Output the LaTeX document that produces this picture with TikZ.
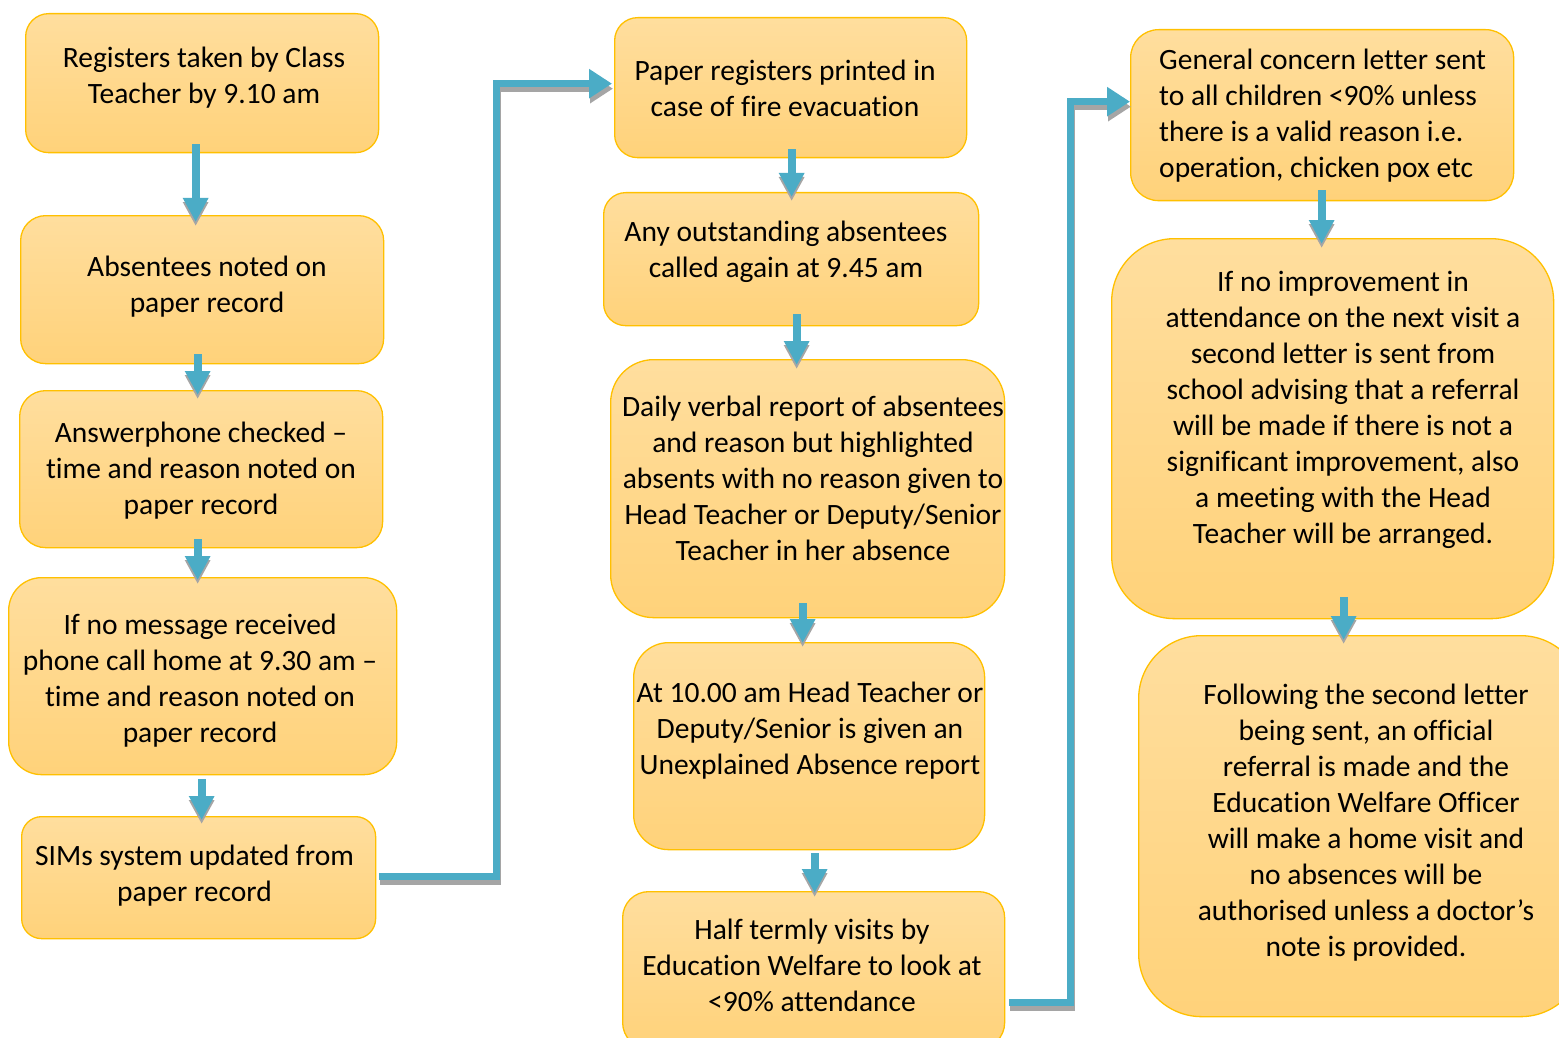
\documentclass[tikz,border=0pt]{standalone}
\usepackage{fontspec}
\setmainfont{Carlito}[Ligatures=NoCommon]
\usetikzlibrary{arrows.meta,calc}
\definecolor{boxedge}{RGB}{255,192,0}
\definecolor{boxtop}{RGB}{255,222,158}
\definecolor{boxbot}{RGB}{255,210,122}
\definecolor{arrblue}{RGB}{75,172,198}
\definecolor{shadowgray}{RGB}{165,165,165}
\newcommand\flowdown[2]{%
  \draw[downshadow] #1 -- #2;
  \draw[downblue] #1 -- #2;}
\begin{document}
\begin{tikzpicture}[x=1pt,y=-1pt,
  box/.style={rectangle,draw=boxedge,line width=1.3pt,top color=boxtop,bottom color=boxbot,inner sep=0pt,anchor=north west},
  txt/.style={font=\fontsize{29.5pt}{36pt}\selectfont,align=center,inner sep=0pt},
  downblue/.style={draw=arrblue,line width=8pt,-{Triangle[width=24pt,length=24pt]}},
  downshadow/.style={draw=shadowgray,line width=8pt,-{Triangle[width=24pt,length=24pt]},transform canvas={yshift=-4pt}},
  elbowblue/.style={draw=arrblue,line width=7.5pt,-{Triangle[width=28pt,length=23pt]}},
  elbowshadow/.style={draw=shadowgray,line width=7.5pt,-{Triangle[width=28pt,length=23pt]},transform canvas={xshift=1pt,yshift=-5pt}}]
\clip (0,0) rectangle (1559,1038);
\fill[white] (0,0) rectangle (1559,1038);
% column 1
\node[box,rounded corners=23pt,minimum width=353pt,minimum height=139pt] (b1) at (25,13) {};
\node[box,rounded corners=25pt,minimum width=363pt,minimum height=148pt] (b2) at (20,215) {};
\node[box,rounded corners=26pt,minimum width=363pt,minimum height=157pt] (b3) at (19,390) {};
\node[box,rounded corners=33pt,minimum width=388pt,minimum height=197pt] (b4) at (8,577) {};
\node[box,rounded corners=20pt,minimum width=354pt,minimum height=122pt] (b5) at (21,816) {};
% column 2
\node[box,rounded corners=23pt,minimum width=352pt,minimum height=140pt] (c1) at (614,17) {};
\node[box,rounded corners=22pt,minimum width=375pt,minimum height=133pt] (c2) at (603,192) {};
\node[box,rounded corners=43pt,minimum width=394pt,minimum height=258pt] (c3) at (610,359) {};
\node[box,rounded corners=35pt,minimum width=351pt,minimum height=207pt] (c4) at (633,642) {};
\node[box,rounded corners=26pt,minimum width=382pt,minimum height=157pt] (c5) at (622,891) {};
% column 3
\node[box,rounded corners=28pt,minimum width=383pt,minimum height=171pt] (d1) at (1130,29) {};
\node[box,rounded corners=63pt,minimum width=442pt,minimum height=380pt] (d2) at (1111,238) {};
\node[box,rounded corners=63pt,minimum width=445pt,minimum height=381pt] (d3) at (1138,635) {};
% texts
\node[txt] (b1t) at (204,77.5) {Registers taken by Class\\Teacher by 9.10 am};
\node[txt] (b2t) at (207,287) {Absentees noted on\\paper record};
\node[txt] (b3t) at (201,471) {Answerphone checked –\\time and reason noted on\\paper record};
\node[txt] (b4t) at (200,680.5) {If no message received\\phone call home at 9.30 am –\\time and reason noted on\\paper record};
\node[txt] (b5t) at (194.5,875.5) {SIMs system updated from\\paper record};
\node[txt] (c1t) at (785,88) {Paper registers printed in\\case of fire evacuation};
\node[txt] (c2t) at (786,251.5) {Any outstanding absentees\\called again at 9.45 am};
\node[txt] (c3t) at (813,478.5) {Daily verbal report of absentees\\and reason but highlighted\\absents with no reason given to\\Head Teacher or Deputy/Senior\\Teacher in her absence};
\node[txt] (c4t) at (810,731) {At 10.00 am Head Teacher or\\Deputy/Senior is given an\\Unexplained Absence report};
\node[txt] (c5t) at (812,965.5) {Half termly visits by\\Education Welfare to look at\\<90\% attendance};
\node[txt,align=left,anchor=west] (d1t) at (1159,115.5) {General concern letter sent\\to all children <90\% unless\\there is a valid reason i.e.\\operation, chicken pox etc};
\node[txt] (d2t) at (1343,409.5) {If no improvement in\\attendance on the next visit a\\second letter is sent from\\school advising that a referral\\will be made if there is not a\\significant improvement, also\\a meeting with the Head\\Teacher will be arranged.};
\node[txt] (d3t) at (1366,822.5) {Following the second letter\\being sent, an official\\referral is made and the\\Education Welfare Officer\\will make a home visit and\\no absences will be\\authorised unless a doctor’s\\note is provided.};
% down arrows
\flowdown{($(b1.south)+(-6.5,-9)$)}{($(b2.north)+(-6.5,7)$)}
\flowdown{($(b2.south)+(-4.5,-10)$)}{($(b3.north)+(-3.5,5)$)}
\flowdown{($(b3.south)+(-3.5,-9)$)}{($(b4.north)+(-5,3)$)}
\flowdown{($(b4.south)+(-1,4)$)}{($(b5.north)+(3,4)$)}
\flowdown{($(c1.south)+(1,-9)$)}{($(c2.north)+(0.5,5)$)}
\flowdown{($(c2.south)+(5.5,-12)$)}{($(c3.north)+(-11,6)$)}
\flowdown{($(c3.south)+(-5,-15)$)}{($(c4.north)+(-6.5,1)$)}
\flowdown{($(c4.south)+(5.5,3)$)}{($(c5.north)+(1,2)$)}
\flowdown{($(d1.south)+(-0.5,-11)$)}{($(d2.north)+(-11,6)$)}
\flowdown{($(d2.south)+(11,-22)$)}{($(d3.north)+(-17.5,5)$)}
% elbow arrows
\draw[elbowshadow] ($(b5.east)+(3,-1)$) -- ++(117,0) |- ($(c1.west)+(-2,-4)$);
\draw[elbowblue] ($(b5.east)+(3,-1)$) -- ++(117,0) |- ($(c1.west)+(-2,-4)$);
\draw[elbowshadow] ($(c5.east)+(4,32.5)$) -- ++(61,0) |- ($(d1.west)+(0,-13.5)$);
\draw[elbowblue] ($(c5.east)+(4,32.5)$) -- ++(61,0) |- ($(d1.west)+(0,-13.5)$);
\end{tikzpicture}
\end{document}
